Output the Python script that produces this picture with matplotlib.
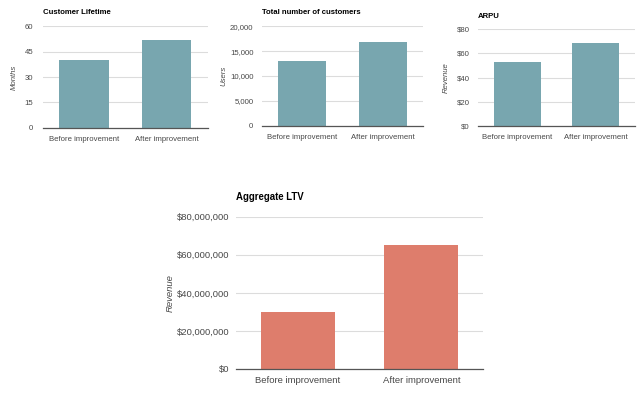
import matplotlib
matplotlib.use("Agg")
import matplotlib.pyplot as plt
from matplotlib.ticker import FuncFormatter

plt.rcParams['font.family'] = ['Liberation Sans', 'DejaVu Sans']

categories = ['Before improvement', 'After improvement']

lifetime = [40, 52]
customers = [13000, 16800]
arpu = [52.5, 68.7]
ltv = [30000000, 65000000]

lifetime_ticks = [0, 15, 30, 45, 60]
customers_ticks = [0, 5000, 10000, 15000, 20000]
arpu_ticks = [0, 20, 40, 60, 80]
ltv_ticks = [0, 20000000, 40000000, 60000000, 80000000]

teal = '#78a6af'
red = '#de7d6c'
grid_col = '#dcdcdc'
text_col = '#484848'

fig = plt.figure(figsize=(6.4, 3.94), dpi=100)


def draw_panel(rect, values, ticks, color, title, ylabel, fmt, fs, title_fs, lab_pad, ypad, tpad, xpad):
    ax = fig.add_axes(rect)
    ax.bar(range(len(categories)), values, width=0.6, color=color, zorder=3)
    ax.set_xlim(-0.5, 1.5)
    ax.set_ylim(ticks[0], ticks[-1])
    ax.set_yticks(ticks)
    ax.yaxis.set_major_formatter(FuncFormatter(fmt))
    ax.set_xticks(range(len(categories)))
    ax.set_xticklabels(categories)
    ax.grid(axis='y', color=grid_col, linewidth=0.8, zorder=0)
    ax.set_axisbelow(True)
    for s in ['top', 'right', 'left']:
        ax.spines[s].set_visible(False)
    ax.spines['bottom'].set_color('#555555')
    ax.spines['bottom'].set_linewidth(0.9)
    ax.spines['bottom'].set_zorder(4)
    ax.tick_params(axis='both', length=0, labelsize=fs, colors=text_col)
    ax.tick_params(axis='y', pad=ypad)
    ax.tick_params(axis='x', pad=xpad)
    ax.set_ylabel(ylabel, fontsize=fs, style='italic', color=text_col, labelpad=lab_pad)
    ax.set_title(title, fontsize=title_fs, fontweight='bold', loc='left', pad=tpad)
    return ax


draw_panel([0.067, 0.676, 0.258, 0.257], lifetime, lifetime_ticks, teal,
           'Customer Lifetime', 'Months', lambda v, p: f'{v:.0f}', 5.6, 5.6, 5, 7, 9, 6)
draw_panel([0.409, 0.681, 0.252, 0.252], customers, customers_ticks, teal,
           'Total number of customers', 'Users', lambda v, p: f'{v:,.0f}', 5.6, 5.6, 1.5, 6, 9, 6)
draw_panel([0.747, 0.680, 0.245, 0.246], arpu, arpu_ticks, teal,
           'ARPU', 'Revenue', lambda v, p: f'${v:.0f}', 5.6, 5.6, 5, 6, 8, 6)
draw_panel([0.369, 0.0635, 0.386, 0.3865], ltv, ltv_ticks, red,
           'Aggregate LTV', 'Revenue', lambda v, p: f'${v:,.0f}', 6.8, 6.9, 1.5, 5, 12, 5)

fig.savefig('out.png', dpi=100)
